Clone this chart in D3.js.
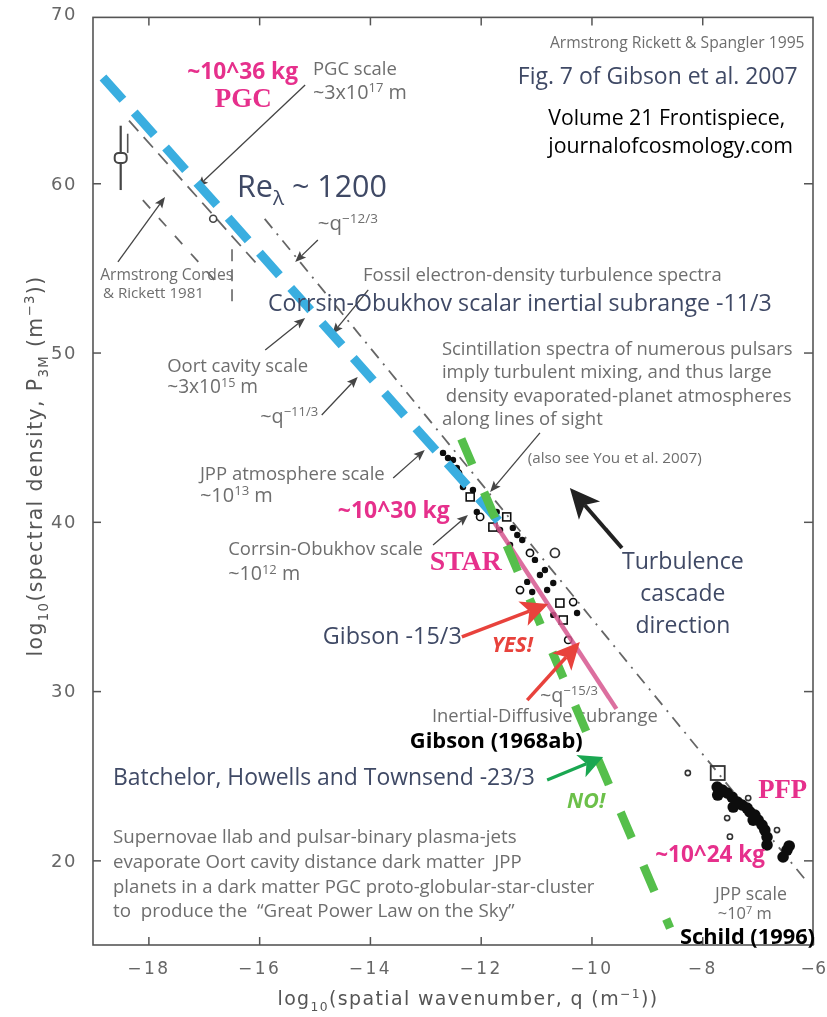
<!DOCTYPE html>
<html>
<head>
<meta charset="utf-8">
<script src="https://cdn.jsdelivr.net/npm/d3@7"></script>
<style>
  html, body { margin: 0; padding: 0; background: #fff; }
  svg { display: block; }
</style>
</head>
<body>
<svg id="chart" width="827" height="1017"></svg>
<script>
// ---- axis ticks ----
const qTicks = [-18, -16, -14, -12, -10, -8, -6];
const pTicks = [20, 30, 40, 50, 60, 70];

// ---- power-law guide lines: [start, end] in log10 q and log10 P ----
const corrsinQ = [-18.82, -11.62];   // slope -11/3
const corrsinP = [66.25, 39.85];
const gibsonQ = [-11.75, -9.55];     // slope -15/3
const gibsonP = [39.95, 28.95];
const batchelorQ = [-12.35, -8.58];  // slope -23/3
const batchelorP = [44.9, 16.0];

// original Armstrong, Rickett & Spangler reference lines
const arsKolmogorovQ = [-18.35, -16.0];
const arsKolmogorovP = [63.7, 55.08];
const arsSteepQ = [-15.9, -6.1];
const arsSteepP = [57.9, 18.7];
const arsLimitQ = [-18.1, -16.7];
const arsLimitP = [59.0, 53.9];
const arsLimitEdgeQ = [-16.49, -16.49];
const arsLimitEdgeP = [56.1, 53.0];

// Armstrong, Cordes & Rickett 1981 point with its range
const acrQ = [-18.5];
const acrP = [61.5];
const acrLow = [59.6];
const acrHigh = [63.4];
const isolatedQ = [-16.83];
const isolatedP = [57.9];

// pulsar scintillation spectra
const scintQ = [-12.68, -12.59, -12.50, -12.43, -12.41, -12.32, -12.19, -12.14, -12.07, -12.01,
                -11.89, -11.78, -11.71, -11.65, -11.53, -11.42, -11.34, -11.47, -11.25, -11.11,
                -10.66, -11.02, -11.16, -10.93, -10.84, -10.69, -11.07, -11.29, -10.80, -10.57,
                -10.33, -10.26, -10.69, -10.51, -10.42];
const scintP = [44.07, 43.77, 43.65, 43.18, 42.88, 42.06, 41.47, 41.88, 40.58, 40.29,
                41.00, 39.69, 40.58, 39.52, 40.29, 39.64, 39.22, 38.63, 38.93, 38.16,
                38.16, 37.75, 36.45, 36.86, 37.15, 36.39, 35.85, 35.97, 35.97, 35.20,
                35.26, 34.61, 34.50, 34.20, 33.02];
const scintMark = ["dot", "dot", "dot", "dot", "circle", "dot", "square", "dot", "dot", "circle",
                   "dot", "square", "dot", "dot", "square", "dot", "dot", "dot", "dot", "circle",
                   "ring", "dot", "dot", "dot", "dot", "dot", "dot", "circle", "dot", "square",
                   "circle", "dot", "dot", "square", "circle"];

// quasar microlensing (planetary-mass) spectra
const pfpQ = [-7.73, -7.64, -7.55, -7.46, -7.37, -7.28, -7.19, -7.14, -7.05, -6.99,
              -6.92, -6.87, -6.83, -6.83, -7.72, -7.44, -7.08, -6.47, -6.54, -6.43];
const pfpP = [24.33, 24.16, 23.98, 23.74, 23.45, 23.27, 23.09, 22.86, 22.68, 22.38,
              22.09, 21.79, 21.38, 20.91, 23.86, 23.15, 22.38, 20.61, 20.20, 20.85];
const pfpBoxQ = [-7.72];
const pfpBoxP = [25.16];
const pfpSparseQ = [-8.26, -7.55, -7.17, -6.65, -7.50];
const pfpSparseP = [25.16, 22.50, 23.68, 21.79, 21.40];

// ---- layout ----
const W = 827, H = 1017;
const x = d3.scaleLinear().domain([-19, -6]).range([93, 813]);
const y = d3.scaleLinear().domain([15, 70]).range([945, 14]);

const GRAY = "#6e6e6e", AXIS = "#555", SLATE = "#3f4965", MAG = "#e6308c";
const RED = "#e8423c", GREEN = "#55bf4b", GREEN_ARROW = "#1aa751", GREEN_TEXT = "#6cc04a";
const SANS = "'Open Sans', 'Noto Sans', sans-serif";
const SERIF = "'Liberation Serif', 'DejaVu Serif', serif";

const svg = d3.select("#chart");
svg.append("rect").attr("width", W).attr("height", H).attr("fill", "#fff");
const defs = svg.append("defs");
defs.append("filter").attr("id", "soft")
  .append("feGaussianBlur").attr("stdDeviation", 0.55);

const base = svg.append("g").attr("filter", "url(#soft)");
const overlay = svg.append("g");
const notes = svg.append("g");

// ---- helpers ----
function segment(g, qs, ps) {
  return g.append("path")
    .datum(qs.map((q, i) => [q, ps[i]]))
    .attr("fill", "none")
    .attr("d", d3.line().x(d => x(d[0])).y(d => y(d[1])));
}

function arrow(g, q1, p1, q2, p2, o) {
  const x1 = x(q1), y1 = y(p1), x2 = x(q2), y2 = y(p2);
  const dx = x2 - x1, dy = y2 - y1, L = Math.hypot(dx, dy);
  const ux = dx / L, uy = dy / L, nx = -uy, ny = ux;
  const bx = x2 - ux * o.len, by = y2 - uy * o.len;
  const notch = o.len * (o.notch || 0.2);
  g.append("line")
    .attr("x1", x1).attr("y1", y1)
    .attr("x2", bx + ux * notch).attr("y2", by + uy * notch)
    .attr("stroke", o.color).attr("stroke-width", o.width);
  g.append("path")
    .attr("d", `M${x2},${y2} L${bx + nx * o.hw},${by + ny * o.hw} L${bx + ux * notch},${by + uy * notch} L${bx - nx * o.hw},${by - ny * o.hw} Z`)
    .attr("fill", o.color);
}

function label(g, s) {
  const t = g.append("text")
    .attr("x", x(s.q)).attr("y", y(s.p))
    .attr("font-family", s.font || SANS)
    .attr("font-size", s.size || 14)
    .attr("font-weight", s.weight || 400)
    .attr("font-style", s.italic ? "italic" : "normal")
    .attr("text-anchor", s.anchor || "start")
    .attr("fill", s.color || GRAY)
    .style("white-space", "pre");
  if (s.spacing) t.attr("letter-spacing", s.spacing);
  const parts = Array.isArray(s.parts) ? s.parts : [s.parts];
  let carry = 0;
  parts.forEach(part => {
    const [str, kind] = typeof part === "string" ? [part, ""] : part;
    const ts = t.append("tspan").text(str);
    if (kind === "sup") {
      ts.attr("font-size", "66%").attr("dy", "-0.5em");
      carry = 0.33;
    } else if (kind === "sub") {
      ts.attr("font-size", "68%").attr("dy", "0.4em");
      carry = -0.27;
    } else {
      if (carry) ts.attr("dy", carry + "em");
      carry = 0;
    }
  });
  if (s.w) {
    const len = t.node().getComputedTextLength();
    if (len > 0) t.attr("font-size", (s.size || 14) * s.w / len);
  }
  return t;
}

// ---- frame and axes ----
base.append("rect")
  .attr("x", x(-19)).attr("y", y(69.8))
  .attr("width", x(-6) - x(-19)).attr("height", y(15) - y(69.8))
  .attr("fill", "none").attr("stroke", AXIS).attr("stroke-width", 1.6);

const fmt = d => d3.format("d")(d).replace("-", "\u2212");
const axB = base.append("g").attr("transform", `translate(0,${y(15)})`)
  .call(d3.axisBottom(x).tickValues(qTicks).tickSize(-8).tickPadding(17).tickFormat(fmt));
const axL = base.append("g").attr("transform", `translate(${x(-19)},0)`)
  .call(d3.axisLeft(y).tickValues(pTicks).tickSize(-8).tickPadding(16).tickFormat(d3.format("d")));
const axT = base.append("g").attr("transform", `translate(0,${y(69.8)})`)
  .call(d3.axisTop(x).tickValues(qTicks.slice(0, -1)).tickSize(-8).tickFormat(""));
const axR = base.append("g").attr("transform", `translate(${x(-6)},0)`)
  .call(d3.axisRight(y).tickValues(pTicks.slice(0, -1)).tickSize(-9).tickFormat(""));
[axB, axL, axT, axR].forEach(a => {
  a.select(".domain").remove();
  a.selectAll("line").attr("stroke", AXIS).attr("stroke-width", 1.5);
  a.selectAll("text").attr("fill", "#666").attr("font-family", "'DejaVu Sans', sans-serif");
});
axB.selectAll("text").attr("font-size", 17).attr("letter-spacing", 2.5);
axB.selectAll(".tick").filter(d => d === -6).select("text").attr("letter-spacing", 0.5);
axL.selectAll("text").attr("font-size", 18).attr("letter-spacing", 1.5);
axL.selectAll(".tick").filter(d => d === 70).select("line").remove();

// axis titles
const xTitle = base.append("text")
  .attr("x", 468).attr("y", 1005).attr("text-anchor", "middle")
  .attr("font-family", "'DejaVu Sans', sans-serif").attr("font-size", 16)
  .attr("letter-spacing", 1.4).attr("fill", "#555");
xTitle.append("tspan").text("log");
xTitle.append("tspan").text("10").attr("font-size", "65%").attr("dy", "0.45em");
xTitle.append("tspan").text("(spatial wavenumber, q (m").attr("dy", "-0.29em");
xTitle.append("tspan").text("\u22121").attr("font-size", "65%").attr("dy", "-0.6em");
xTitle.append("tspan").text("))").attr("dy", "0.39em");
xTitle.attr("font-size", 16 * 390 / xTitle.node().getComputedTextLength());

const yTitle = base.append("text")
  .attr("transform", "translate(42,466) rotate(-90)").attr("text-anchor", "middle")
  .attr("font-family", "'DejaVu Sans', sans-serif").attr("font-size", 16)
  .attr("letter-spacing", 1.4).attr("fill", "#555");
yTitle.append("tspan").text("log");
yTitle.append("tspan").text("10").attr("font-size", "65%").attr("dy", "0.45em");
yTitle.append("tspan").text("(spectral density, P").attr("dy", "-0.29em");
yTitle.append("tspan").text("3M").attr("font-size", "65%").attr("dy", "0.45em");
yTitle.append("tspan").text(" (m").attr("dy", "-0.29em");
yTitle.append("tspan").text("\u22123").attr("font-size", "65%").attr("dy", "-0.6em");
yTitle.append("tspan").text("))").attr("dy", "0.39em");
yTitle.attr("font-size", 16 * 394 / yTitle.node().getComputedTextLength());

// ---- original reference lines ----
segment(base, arsKolmogorovQ, arsKolmogorovP)
  .attr("stroke", "#666").attr("stroke-width", 1.8).attr("stroke-dasharray", "14,8");
segment(base, arsSteepQ, arsSteepP)
  .attr("stroke", "#666").attr("stroke-width", 1.8).attr("stroke-dasharray", "12,7,2,7");
segment(base, arsLimitQ, arsLimitP)
  .attr("stroke", "#666").attr("stroke-width", 1.8).attr("stroke-dasharray", "11,13");
segment(base, arsLimitEdgeQ, arsLimitEdgeP)
  .attr("stroke", "#666").attr("stroke-width", 1.6).attr("stroke-dasharray", "12,8");

// ---- original data ----
acrQ.forEach((q, i) => {
  base.append("line").attr("x1", x(q)).attr("x2", x(q))
    .attr("y1", y(acrHigh[i])).attr("y2", y(acrLow[i]))
    .attr("stroke", "#444").attr("stroke-width", 2.2);
  base.append("line").attr("x1", x(q) + 7).attr("x2", x(q) + 7)
    .attr("y1", y(acrHigh[i]) + 8).attr("y2", y(acrP[i]) - 5)
    .attr("stroke", "#555").attr("stroke-width", 1.6);
  base.append("rect").attr("x", x(q) - 6).attr("y", y(acrP[i]) - 5)
    .attr("width", 12).attr("height", 10).attr("rx", 4)
    .attr("fill", "#fff").attr("stroke", "#444").attr("stroke-width", 2);
});
isolatedQ.forEach((q, i) => {
  base.append("circle").attr("cx", x(q)).attr("cy", y(isolatedP[i])).attr("r", 3.5)
    .attr("fill", "none").attr("stroke", "#444").attr("stroke-width", 1.6);
});

scintQ.forEach((q, i) => {
  const cx = x(q), cy = y(scintP[i]), m = scintMark[i];
  if (m === "dot") {
    base.append("circle").attr("cx", cx).attr("cy", cy).attr("r", 3.2).attr("fill", "#111");
  } else if (m === "square") {
    base.append("rect").attr("x", cx - 4).attr("y", cy - 4).attr("width", 8).attr("height", 8)
      .attr("fill", "none").attr("stroke", "#111").attr("stroke-width", 1.6);
  } else if (m === "ring") {
    base.append("circle").attr("cx", cx).attr("cy", cy).attr("r", 4.5)
      .attr("fill", "none").attr("stroke", "#333").attr("stroke-width", 1.8);
  } else {
    base.append("circle").attr("cx", cx).attr("cy", cy).attr("r", 3.6)
      .attr("fill", "none").attr("stroke", "#111").attr("stroke-width", 1.6);
  }
});

pfpQ.forEach((q, i) => {
  base.append("circle").attr("cx", x(q)).attr("cy", y(pfpP[i])).attr("r", 5.8).attr("fill", "#111");
});
pfpBoxQ.forEach((q, i) => {
  base.append("rect").attr("x", x(q) - 7).attr("y", y(pfpBoxP[i]) - 7)
    .attr("width", 14).attr("height", 14)
    .attr("fill", "none").attr("stroke", "#333").attr("stroke-width", 1.8);
});
pfpSparseQ.forEach((q, i) => {
  base.append("circle").attr("cx", x(q)).attr("cy", y(pfpSparseP[i])).attr("r", 2.6)
    .attr("fill", "none").attr("stroke", "#333").attr("stroke-width", 1.6);
});

// ---- original gray annotations ----
const grayNotes = [
  { q: -15.03, p: 66.40, parts: "PGC scale", w: 84 },
  { q: -15.03, p: 64.98, parts: ["~3x10", ["17", "sup"], " m"], w: 94 },
  { q: -14.94, p: 57.24, parts: ["~q", ["\u221212/3", "sup"]], w: 60 },
  { q: -18.87, p: 54.29, parts: "Armstrong Cordes", size: 13, w: 133 },
  { q: -18.82, p: 53.22, parts: "& Rickett 1981", size: 13, w: 101 },
  { q: -14.125, p: 54.23, parts: "Fossil electron-density turbulence spectra", w: 359 },
  { q: -17.66, p: 48.85, parts: "Oort cavity scale", w: 141 },
  { q: -17.66, p: 47.61, parts: ["~3x10", ["15", "sup"], " m"], w: 91 },
  { q: -15.98, p: 45.84, parts: ["~q", ["\u221211/3", "sup"]], w: 58 },
  { q: -12.70, p: 49.86, parts: "Scintillation spectra of numerous pulsars", w: 351 },
  { q: -12.70, p: 48.50, parts: "imply turbulent mixing, and thus large", w: 330 },
  { q: -12.63, p: 47.08, parts: "density evaporated-planet atmospheres", w: 346 },
  { q: -12.70, p: 45.72, parts: "along lines of sight", w: 161 },
  { q: -11.15, p: 43.48, parts: "(also see You et al. 2007)", size: 10, w: 174 },
  { q: -17.07, p: 42.47, parts: "JPP atmosphere scale", w: 185 },
  { q: -17.07, p: 41.17, parts: ["~10", ["13", "sup"], " m"], w: 73 },
  { q: -16.56, p: 38.04, parts: "Corrsin-Obukhov scale", w: 195 },
  { q: -16.56, p: 36.56, parts: ["~10", ["12", "sup"], " m"], w: 72 },
  { q: -10.93, p: 29.36, parts: ["~q", ["\u221215/3", "sup"]], w: 58 },
  { q: -12.88, p: 28.17, parts: "Inertial-Diffusive subrange", w: 226 },
  { q: -18.64, p: 21.03, parts: "Supernovae llab and pulsar-binary plasma-jets", w: 404 },
  { q: -18.64, p: 19.55, parts: "evaporate Oort cavity distance dark matter  JPP", w: 409 },
  { q: -18.64, p: 18.07, parts: "planets in a dark matter PGC proto-globular-star-cluster", w: 482 },
  { q: -18.64, p: 16.65, parts: "to  produce the  \u201CGreat Power Law on the Sky\u201D", w: 402 },
  { q: -7.77, p: 17.66, parts: "JPP scale", w: 72 },
  { q: -7.72, p: 16.52, parts: ["~10", ["7", "sup"], " m"], w: 54 },
  { q: -10.75, p: 67.99, parts: "Armstrong Rickett & Spangler 1995", size: 11, w: 255 }
];
grayNotes.forEach(s => label(base, Object.assign({ color: GRAY }, s)));

const grayArrow = { color: "#444", width: 1.3, len: 11, hw: 4.5 };
[
  [-15.17, 65.81, -17.12, 59.78],
  [-14.94, 56.65, -15.35, 55.35],
  [-18.55, 55.35, -17.70, 59.19],
  [-14.03, 53.70, -14.68, 51.10],
  [-15.89, 50.15, -15.17, 52.04],
  [-14.87, 46.31, -14.22, 48.56],
  [-10.93, 45.25, -11.83, 41.76],
  [-13.58, 42.59, -13.01, 44.24],
  [-12.86, 38.63, -12.23, 40.40]
].forEach(a => arrow(base, a[0], a[1], a[2], a[3], grayArrow));

// ---- overlaid spectra ----
segment(overlay, gibsonQ, gibsonP)
  .attr("stroke", "#d6568e").attr("stroke-width", 4.5).attr("opacity", 0.85);
segment(overlay, corrsinQ, corrsinP)
  .attr("stroke", "#3aaee0").attr("stroke-width", 9).attr("stroke-dasharray", "30,17");
segment(overlay, batchelorQ, batchelorP)
  .attr("stroke", GREEN).attr("stroke-width", 8.5).attr("stroke-dasharray", "28,30");

// ---- overlaid annotations ----
const colorNotes = [
  { q: -17.30, p: 66.16, parts: "~10^36 kg", color: MAG, weight: 700, size: 18, w: 111 },
  { q: -16.80, p: 64.51, parts: "PGC", color: MAG, weight: 700, size: 26, font: SERIF, w: 57 },
  { q: -16.40, p: 59.19, parts: ["Re", ["\u03BB", "sub"], " ~ 1200"], color: SLATE, size: 26, w: 150 },
  { q: -15.84, p: 52.46, parts: "Corrsin-Obukhov scalar inertial subrange -11/3", color: SLATE, size: 20, w: 504 },
  { q: -14.58, p: 40.23, parts: "~10^30 kg", color: MAG, weight: 700, size: 18, w: 112 },
  { q: -12.92, p: 37.15, parts: "STAR", color: MAG, weight: 700, size: 26, font: SERIF, w: 72 },
  { q: -8.35, p: 37.21, parts: "Turbulence", color: SLATE, size: 21, anchor: "middle", w: 122 },
  { q: -8.35, p: 35.32, parts: "cascade", color: SLATE, size: 21, anchor: "middle", w: 85 },
  { q: -8.35, p: 33.43, parts: "direction", color: SLATE, size: 21, anchor: "middle", w: 95 },
  { q: -14.85, p: 32.78, parts: "Gibson -15/3", color: SLATE, size: 20, w: 139 },
  { q: -11.80, p: 32.31, parts: "YES!", color: RED, weight: 700, italic: true, size: 16, w: 41 },
  { q: -13.28, p: 26.64, parts: "Gibson (1968ab)", color: "#000", weight: 700, size: 17, w: 173 },
  { q: -18.64, p: 24.45, parts: "Batchelor, Howells and Townsend -23/3", color: SLATE, size: 20, w: 422 },
  { q: -10.44, p: 23.09, parts: "NO!", color: GREEN_TEXT, weight: 700, italic: true, size: 16, w: 38 },
  { q: -6.99, p: 23.68, parts: "PFP", color: MAG, weight: 700, size: 24, font: SERIF, w: 49 },
  { q: -8.85, p: 19.90, parts: "~10^24 kg", color: MAG, weight: 700, size: 17, w: 110 },
  { q: -8.40, p: 15.08, parts: "Schild (1996)", color: "#000", weight: 700, size: 17, w: 135 },
  { q: -11.33, p: 65.87, parts: "Fig. 7 of Gibson et al. 2007", color: SLATE, size: 20, w: 280 },
  { q: -10.78, p: 63.44, parts: "Volume 21 Frontispiece,", color: "#000", size: 17, w: 237 },
  { q: -10.78, p: 61.79, parts: "journalofcosmology.com", color: "#000", size: 17, w: 245 }
];
colorNotes.forEach(s => label(notes, s));

arrow(notes, -9.45, 38.45, -10.39, 42.0, { color: "#222", width: 4, len: 30, hw: 14, notch: 0.25 });
arrow(notes, -12.34, 33.20, -10.78, 35.15, { color: RED, width: 3.5, len: 27, hw: 13, notch: 0.25 });
arrow(notes, -11.16, 29.47, -10.21, 32.90, { color: RED, width: 3.5, len: 27, hw: 13, notch: 0.25 });
arrow(notes, -10.80, 24.75, -9.79, 26.11, { color: GREEN_ARROW, width: 3.2, len: 24, hw: 12, notch: 0.25 });
</script>
</body>
</html>
